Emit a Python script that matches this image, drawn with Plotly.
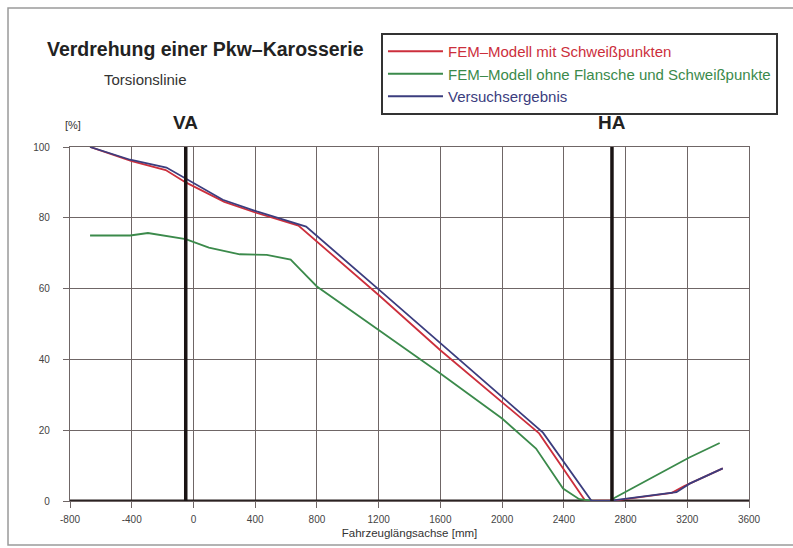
import plotly.graph_objects as go

# ---------------- data ----------------
x_red = [-670, -400, -180, -50, 200, 400, 680, 1200, 1600, 2000, 2240, 2540, 2600, 2700, 2740, 3100, 3180, 3430]
y_red = [100, 96.0, 93.5, 90.0, 84.5, 81.5, 77.8, 58.2, 42.6, 28.0, 19.1, 0.0, 0.0, 0.0, 0.2, 2.3, 4.2, 9.2]

x_green = [-670, -410, -295, -50, 100, 300, 475, 630, 690, 800, 1200, 1600, 2000, 2220, 2395, 2500, 2590, 2700, 2730, 3210, 3410]
y_green = [75.0, 75.0, 75.7, 74.0, 71.6, 69.7, 69.5, 68.2, 65.5, 60.6, 48.3, 36.0, 23.3, 14.8, 3.5, 0.5, 0.0, 0.0, 0.9, 12.2, 16.4]

x_blue = [-670, -410, -175, -55, 190, 410, 730, 1200, 1600, 2000, 2265, 2395, 2580, 2700, 2720, 3130, 3215, 3430]
y_blue = [100, 96.4, 94.2, 91.2, 85.1, 81.8, 77.5, 59.8, 44.7, 29.4, 19.3, 11.3, 0.0, 0.0, 0.2, 2.5, 4.9, 9.2]

series_names = ["FEM–Modell mit Schweißpunkten",
                "FEM–Modell ohne Flansche und Schweißpunkte",
                "Versuchsergebnis"]

axle_positions = [-50, 2712]
axle_labels = ["VA", "HA"]

x_tickvals = [-800, -400, 0, 400, 800, 1200, 1600, 2000, 2400, 2800, 3200, 3600]
x_ticktext = ["-800", "-400", "0", "400", "800", "1200", "1600", "2000", "2400", "2800", "3200", "3600"]
y_tickvals = [0, 20, 40, 60, 80, 100]

# ---------------- styles ----------------
RED = "#cc2f3c"
GREEN = "#3b8a4b"
BLUE = "#3b3d7e"
GRID = "#6f6666"
FONT = "Liberation Sans, Arial, sans-serif"

fig = go.Figure()
for xs, ys, name, col in [(x_red, y_red, series_names[0], RED),
                          (x_green, y_green, series_names[1], GREEN),
                          (x_blue, y_blue, series_names[2], BLUE)]:
    fig.add_trace(go.Scatter(
        x=xs, y=ys, mode="lines",
        name=f"<span style='color:{col}'>{name}</span>",
        line=dict(color=col, width=1.8),
    ))

# baseline (thick) at y=0
fig.add_shape(type="line", xref="x", yref="y", x0=x_tickvals[0], x1=x_tickvals[-1], y0=0, y1=0,
              line=dict(color="#2a2222", width=3), layer="between")

# axle lines
for xp, lab in zip(axle_positions, axle_labels):
    fig.add_shape(type="line", xref="x", yref="y", x0=xp, x1=xp, y0=0, y1=100,
                  line=dict(color="#1a1414", width=3.5), layer="above")
    fig.add_annotation(x=xp, y=1.0706, xref="x", yref="paper", text=f"<b>{lab}</b>",
                       showarrow=False, xanchor="center", yanchor="middle",
                       font=dict(family=FONT, size=19, color="#222222"))

# outer frame
fig.add_shape(type="rect", xref="paper", yref="paper", x0=-0.0913, x1=1.2, y0=-0.1243, y1=1.3927,
              line=dict(color="#9a9a9a", width=1.5), layer="below")

# title texts
fig.add_annotation(x=-0.0368, y=1.2768, xref="paper", yref="paper",
                   text="<b>Verdrehung einer Pkw–Karosserie</b>", showarrow=False,
                   xanchor="left", yanchor="middle",
                   font=dict(family=FONT, size=19.5, color="#222222"))
fig.add_annotation(x=0.0471, y=1.1893, xref="paper", yref="paper",
                   text="Torsionslinie", showarrow=False,
                   xanchor="left", yanchor="middle",
                   font=dict(family=FONT, size=15, color="#333333"))
fig.add_annotation(x=0.0044, y=1.0621, xref="paper", yref="paper",
                   text="[%]", showarrow=False,
                   xanchor="center", yanchor="middle",
                   font=dict(family=FONT, size=11, color="#333333"))

fig.update_layout(
    width=793, height=548,
    margin=dict(l=70, r=44, t=147, b=47),
    paper_bgcolor="white", plot_bgcolor="white",
    font=dict(family=FONT, color="#333333"),
    showlegend=True,
    legend=dict(x=0.458, y=1.322, xanchor="left", yanchor="top",
                bordercolor="#333333", borderwidth=2, bgcolor="white",
                font=dict(family=FONT, size=15), itemwidth=55,
                tracegroupgap=0),
    xaxis=dict(range=[-800, 3600], tickvals=x_tickvals, ticktext=x_ticktext,
               showgrid=True, gridcolor=GRID, gridwidth=1.3,
               showline=True, mirror=True, linecolor=GRID, linewidth=1.3,
               ticks="outside", ticklen=6, tickcolor=GRID, tickwidth=1.3,
               zeroline=False, ticklabelstandoff=3,
               tickfont=dict(family=FONT, size=10, color="#444444"),
               title=dict(text="Fahrzeuglängsachse [mm]", standoff=4,
                          font=dict(family=FONT, size=11.5, color="#333333"))),
    yaxis=dict(range=[0, 100], tickvals=y_tickvals,
               showgrid=True, gridcolor=GRID, gridwidth=1.3,
               showline=True, mirror=True, linecolor=GRID, linewidth=1.3,
               ticks="outside", ticklen=6, tickcolor=GRID, tickwidth=1.3,
               zeroline=False, ticklabelstandoff=11,
               tickfont=dict(family=FONT, size=10, color="#444444")),
)

fig.write_html("out.html", config={"displayModeBar": False},
               post_script="document.body.style.margin='0';document.body.style.overflow='hidden';")
